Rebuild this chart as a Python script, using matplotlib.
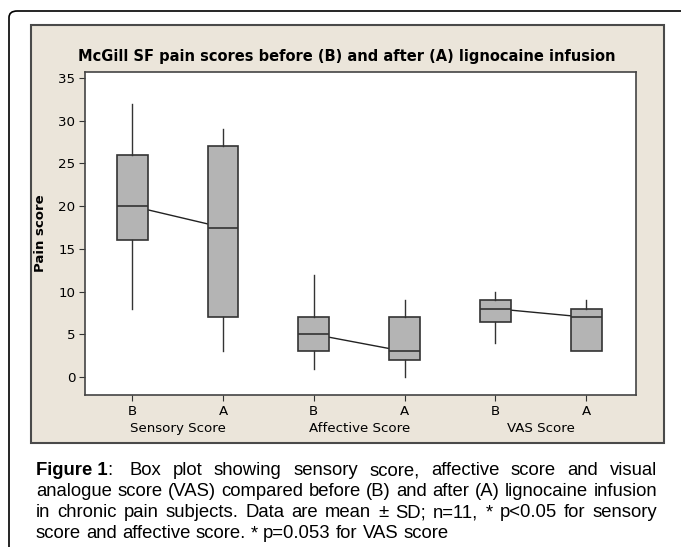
import numpy as np
import matplotlib
matplotlib.use("Agg")
import matplotlib.pyplot as plt
from matplotlib.patches import Rectangle, FancyBboxPatch
import matplotlib.transforms as mtransforms

# box plot values
groups = ["Sensory Score", "Affective Score", "VAS Score"]
ticklabels = ["B", "A", "B", "A", "B", "A"]
medians = [20, 17.5, 5, 3, 8, 7]
q1 = [16, 7, 3, 2, 6.5, 3]
q3 = [26, 27, 7, 7, 9, 8]
whislo = [8, 3, 1, 0, 4, 3]
whishi = [32, 29, 12, 9, 10, 9]

caption_lines = [
    "Box plot showing sensory score, affective score and visual",
    "analogue score (VAS) compared before (B) and after (A) lignocaine infusion",
    "in chronic pain subjects. Data are mean \u00b1  SD; n=11, * p<0.05 for sensory",
    "score and affective score. * p=0.053 for VAS score",
]

W, H = 681, 547
fig = plt.figure(figsize=(W / 100, H / 100), dpi=100)
fig.patch.set_facecolor("white")

# outer card with rounded corner (right/bottom run off the page)
card = FancyBboxPatch((9 / W, -0.05), 1.2, 1 - 11 / H + 0.05,
                      boxstyle="round,pad=0,rounding_size=0.012",
                      transform=fig.transFigure, facecolor="none",
                      edgecolor="black", lw=1.2, zorder=-2)
fig.patches.append(card)
# the beige minitab panel
panel = Rectangle((31 / W, 1 - 443 / H), 633 / W, 418 / H,
                  transform=fig.transFigure, facecolor="#ebe5da",
                  edgecolor="#4a4a4a", lw=1.5, zorder=-1)
fig.patches.append(panel)

ax = fig.add_axes([85 / W, 1 - 395 / H, 551 / W, 323 / H])
ax.set_facecolor("white")

pos = np.arange(1, 7)
stats = []
for i in range(6):
    stats.append(dict(med=medians[i], q1=q1[i], q3=q3[i],
                      whislo=whislo[i], whishi=whishi[i], fliers=[]))

# median connect lines, behind the boxes
for g in range(3):
    ax.plot(pos[2 * g:2 * g + 2], medians[2 * g:2 * g + 2], color="#222222",
            lw=1.0, zorder=1)

ax.bxp(stats, positions=pos, widths=0.34, patch_artist=True, showcaps=False,
       boxprops=dict(facecolor="#b4b4b4", edgecolor="#333333", lw=1.2),
       medianprops=dict(color="#333333", lw=1.2),
       whiskerprops=dict(color="#333333", lw=1.0), zorder=2)

ax.set_xlim(0.48, 6.55)
ax.set_ylim(-2.1, 35.7)
ax.set_yticks(np.arange(0, 36, 5))
ax.set_xticks(pos)
ax.set_xticklabels(ticklabels)
ax.tick_params(labelsize=9.6, length=4, color="#333333", pad=3)
for s in ax.spines.values():
    s.set_color("#444444")
    s.set_linewidth(1.2)

trans = mtransforms.blended_transform_factory(ax.transData, ax.transAxes)
for g, name in enumerate(groups):
    ax.text(2 * g + 1.5, -0.105, name, transform=trans, ha="center",
            va="center", fontsize=9.6)

ax.set_ylabel("Pain score", fontsize=9.5, fontweight="bold", labelpad=8)
fig.text(347 / W, 1 - 56 / H,
         "McGill SF pain scores before (B) and after (A) lignocaine infusion",
         ha="center", va="center", fontsize=10.5, fontweight="bold")

# caption, justified by hand
cap_font = dict(family="Liberation Sans", fontsize=13.3)
x_left, x_right = 36, 657
line_y = [475, 496, 517, 538]
renderer = fig.canvas.get_renderer()


def text_width(s, **kw):
    t = fig.text(0, 0, s, **kw)
    w = t.get_window_extent(renderer).width
    t.remove()
    return w


space = text_width("a b", **cap_font) - text_width("ab", **cap_font)
for k, line in enumerate(caption_lines):
    words = [w for w in line.split(" ") if w != ""]
    kws = [dict(cap_font) for _ in words]
    if k == 0:
        words = ["Figure 1", ":"] + words
        kws = [dict(cap_font, fontweight="bold"), dict(cap_font)] + kws
    widths = [text_width(w, **kw) for w, kw in zip(words, kws)]
    gaps = [space] * (len(words) - 1)
    if k == 0:
        gaps[0] = 0
        gaps[1] = 2 * space
    if k < len(caption_lines) - 1:
        n = len(words) - 1 - (k == 0)
        extra = (x_right - x_left - sum(widths) - sum(gaps)) / n
        gaps = [g + extra if (i > 0 or k > 0) else g for i, g in enumerate(gaps)]
    x = x_left
    for i, (w, kw, wd) in enumerate(zip(words, kws, widths)):
        fig.text(x / W, 1 - line_y[k] / H, w, ha="left", va="baseline", **kw)
        if i < len(gaps):
            x += wd + gaps[i]

fig.savefig("out.png", dpi=100)
